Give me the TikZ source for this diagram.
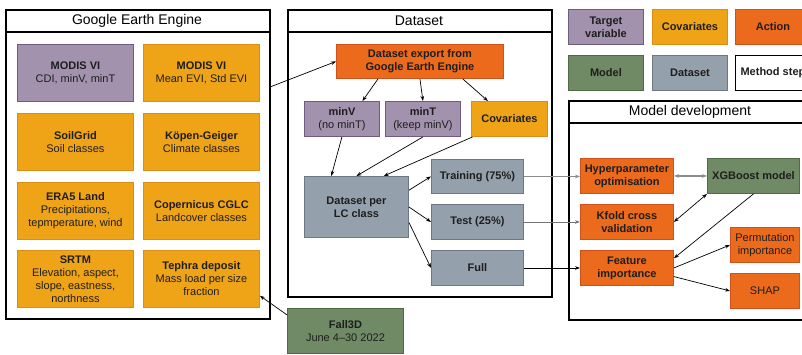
\documentclass[tikz,border=0pt]{standalone}
\usepackage{fontspec}
\setmainfont{Liberation Sans}
\usetikzlibrary{arrows.meta,calc}
\definecolor{cpurple}{HTML}{A292AD}
\definecolor{cpurpleb}{HTML}{6E5C80}
\definecolor{corange}{HTML}{EFA418}
\definecolor{coranb}{HTML}{D98E1A}
\definecolor{caction}{HTML}{EC6A1C}
\definecolor{cactionb}{HTML}{D0501C}
\definecolor{cgreen}{HTML}{6F8A64}
\definecolor{cgreenb}{HTML}{4F6A46}
\definecolor{cgray}{HTML}{94A0AB}
\definecolor{cgrayb}{HTML}{6C7884}
\definecolor{ctext}{HTML}{1E1E1E}
\tikzset{
  sz/.style 2 args={minimum width=#1pt, minimum height=#2pt},
  bx/.style={draw, line width=0.9pt, inner sep=1pt, align=center, anchor=north west,
    font=\fontsize{11}{13}\selectfont, text=ctext},
  tv/.style={bx, fill=cpurple, draw=cpurpleb},
  cov/.style={bx, fill=corange, draw=coranb},
  act/.style={bx, fill=caction, draw=cactionb},
  mdl/.style={bx, fill=cgreen, draw=cgreenb},
  dst/.style={bx, fill=cgray, draw=cgrayb},
  wht/.style={bx, fill=white, draw=black},
  outer/.style={draw=black, line width=1.8pt, anchor=north west, inner sep=0pt},
  ttl/.style={font=\fontsize{14}{16}\selectfont, text=black},
  arr/.style={-{Stealth[length=5pt,width=3.6pt]}, line width=0.7pt, draw=black},
  darr/.style={{Stealth[length=5pt,width=3.6pt]}-{Stealth[length=5pt,width=3.6pt]}, line width=0.7pt},
}
\begin{document}
\begin{tikzpicture}[x=1pt,y=-1pt]
\useasboundingbox (0,0) rectangle (802,354);
\clip (0,0) rectangle (802,354);
\fill[white] (0,0) rectangle (802,354);

% ---------- Google Earth Engine ----------
\node[outer, minimum width=264pt, minimum height=309pt] (gee) at (5,9) {};
\draw[line width=1.2pt] (5,32) -- (269,32);
\node[ttl] (geet) at (137,20.5) {Google Earth Engine};

\node[tv,  sz={116}{57}] (m1) at (17,44)  {\textbf{MODIS VI}\\CDI, minV, minT};
\node[cov, sz={116}{57}] (m2) at (143,44) {\textbf{MODIS VI}\\Mean EVI, Std EVI};
\node[cov, sz={116}{57}] (sg) at (17,113) {\textbf{SoilGrid}\\Soil classes};
\node[cov, sz={116}{57}] (kg) at (143,113) {\textbf{Köpen-Geiger}\\Climate classes};
\node[cov, sz={116}{57}] (er) at (17,182) {\textbf{ERA5 Land}\\Precipitations,\\tepmperature, wind};
\node[cov, sz={116}{57}] (cg) at (143,182) {\textbf{Copernicus CGLC}\\Landcover classes};
\node[cov, sz={116}{57}] (sr) at (17,250) {\textbf{SRTM}\\Elevation, aspect,\\slope, eastness,\\northness};
\node[cov, sz={116}{57}] (tp) at (143,250) {\textbf{Tephra deposit}\\Mass load per size\\fraction};

% ---------- Dataset ----------
\node[outer, minimum width=264pt, minimum height=287pt] (ds) at (287,9) {};
\draw[line width=1.2pt] (287,32) -- (551,32);
\node[ttl] (dst) at (419,20.5) {Dataset};

\node[act, sz={167}{34}] (ex) at (336,44) {\textbf{Dataset export from}\\\textbf{Google Earth Engine}};
\node[tv,  sz={75}{35}] (mv) at (304,101) {\textbf{minV}\\(no minT)};
\node[tv,  sz={75}{35}] (mt) at (385,101) {\textbf{minT}\\(keep minV)};
\node[cov, sz={76}{35}] (cv) at (471,101) {\textbf{Covariates}};
\node[dst, sz={104}{61}] (lc) at (304,176) {\textbf{Dataset per}\\\textbf{LC class}};
\node[dst, sz={92}{34}] (tr) at (431,159) {\textbf{Training (75\%)}};
\node[dst, sz={92}{35}] (te) at (431,204) {\textbf{Test (25\%)}};
\node[dst, sz={92}{35}] (fu) at (431,250) {\textbf{Full}};

\node[mdl, sz={116}{45}] (f3) at (287,308) {\textbf{Fall3D}\\June 4\textendash30 2022};

% ---------- Legend ----------
\node[tv,  sz={75}{35}] (l1) at (568,9)  {\textbf{Target}\\\textbf{variable}};
\node[cov, sz={75}{35}] (l2) at (652,9)  {\textbf{Covariates}};
\node[act, sz={75}{35}] (l3) at (735,9)  {\textbf{Action}};
\node[mdl, sz={75}{35}] (l4) at (568,55) {\textbf{Model}};
\node[dst, sz={75}{35}] (l5) at (652,55) {\textbf{Dataset}};
\node[wht, sz={75}{35}] (l6) at (735,55) {\textbf{Method step}};

% ---------- Model development ----------
\node[outer, minimum width=250pt, minimum height=219pt] (md) at (568,100) {};
\draw[line width=1.2pt] (568,123) -- (818,123);
\node[ttl] (mdt) at (690,111.5) {Model development};

\node[act, sz={93}{35}] (hp) at (580,158) {\textbf{Hyperparameter}\\\textbf{optimisation}};
\node[mdl, sz={92}{35}] (xg) at (707,158) {\textbf{XGBoost model}};
\node[act, sz={93}{35}] (kf) at (580,204) {\textbf{Kfold cross}\\\textbf{validation}};
\node[act, sz={93}{35}] (fi) at (580,250) {\textbf{Feature}\\\textbf{importance}};
\node[act, sz={69}{35}] (pi) at (730,227) {Permutation\\importance};
\node[act, sz={69}{35}] (sh) at (730,273) {SHAP};

% ---------- Connectors ----------
\draw[arr] ($(gee.north east)!0.25!(gee.south east)$) -- (ex.west);
\draw[arr] ($(f3.north west)!0.15!(f3.south west)$) -- ($(tp.north east)!0.79!(tp.south east)$);
\draw[arr] ($(ex.south west)!0.25!(ex.south east)$) -- ($(mv.north west)!0.77!(mv.north east)$);
\draw[arr] (ex.south) -- (mt.north);
\draw[arr] ($(ex.south west)!0.755!(ex.south east)$) -- ($(cv.north west)!0.22!(cv.north east)$);
\draw[arr] (mv.south) -- ($(lc.north west)!0.26!(lc.north east)$);
\draw[arr] (mt.south) -- (lc.north);
\draw[arr] ($(cv.south west)!0.02!(cv.south east)$) -- ($(lc.north west)!0.76!(lc.north east)$);
\draw[arr] ($(lc.north east)!0.23!(lc.south east)$) -- (tr.west);
\draw[arr] (lc.east) -- (te.west);
\draw[arr] ($(lc.north east)!0.75!(lc.south east)$) -- (fu.west);
\draw[arr, draw=black!45, line width=1pt] (tr.east) -- (tr.east -| hp.west);
\draw[arr, draw=black!55, line width=0.9pt] (te.east) -- (te.east -| kf.west);
\draw[arr] (fu.east) -- (fu.east -| fi.west);
\draw[darr, draw=black!45, line width=1.1pt] (hp.east) -- (hp.east -| xg.west);
\draw[darr] (xg.south west) -- (kf.east);
\draw[arr] (xg.south) -- ($(fi.north east)!0.23!(fi.south east)$);
\draw[arr] (fi.east) -- (pi.west);
\draw[arr] ($(fi.north east)!0.74!(fi.south east)$) -- (sh.west);
\end{tikzpicture}
\end{document}
